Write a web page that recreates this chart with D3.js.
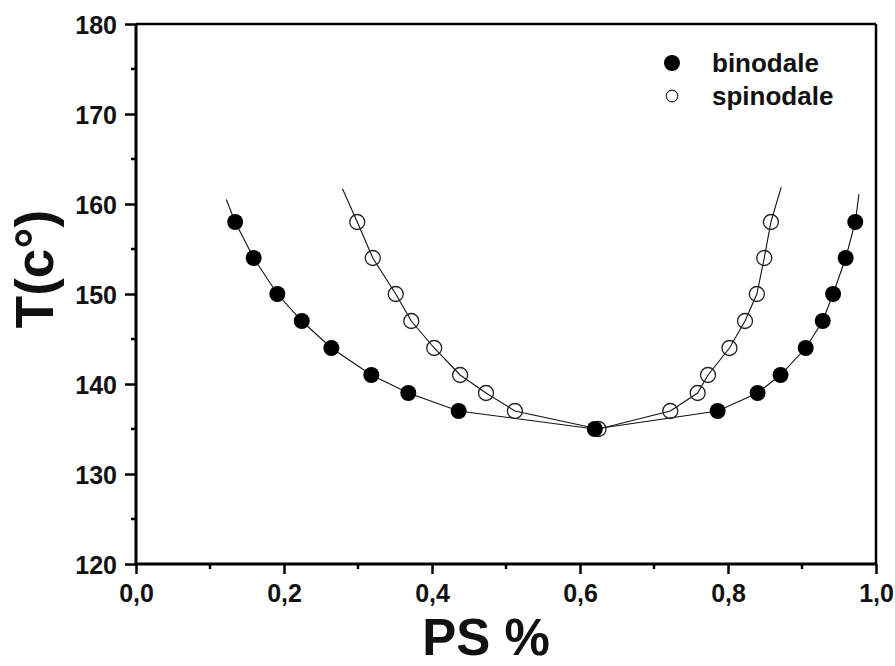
<!DOCTYPE html>
<html>
<head>
<meta charset="utf-8">
<script src="https://cdn.jsdelivr.net/npm/d3@7/dist/d3.min.js"></script>
<style>
  html, body { margin: 0; padding: 0; background: #fff; }
  svg { display: block; }
  text { font-family: Arial, "Liberation Sans", sans-serif; font-weight: bold; fill: #111; }
</style>
</head>
<body>
<svg id="chart" width="895" height="666"></svg>
<script>
// ---- data ----
const binodaleX = [0.134,0.159,0.191,0.224,0.264,0.318,0.368,0.436,0.620,0.786,0.840,0.871,0.905,0.928,0.942,0.959,0.972];
const binodaleT = [158,154,150,147,144,141,139,137,135,137,139,141,144,147,150,154,158];
const spinodaleX = [0.299,0.320,0.351,0.372,0.403,0.438,0.473,0.512,0.625,0.722,0.759,0.773,0.802,0.823,0.839,0.849,0.858];
const spinodaleT = [158,154,150,147,144,141,139,137,135,137,139,141,144,147,150,154,158];
// fitted guide lines (extend past the outermost points)
const binodaleLineX = [0.122,0.134,0.159,0.191,0.224,0.264,0.318,0.368,0.436,0.620,0.786,0.840,0.871,0.905,0.928,0.942,0.959,0.972,0.977];
const binodaleLineT = [160.5,158,154,150,147,144,141,139,137,135,137,139,141,144,147,150,154,158,161.1];
const spinodaleLineX = [0.279,0.299,0.320,0.351,0.372,0.403,0.438,0.473,0.512,0.625,0.722,0.759,0.773,0.802,0.823,0.839,0.849,0.858,0.872];
const spinodaleLineT = [161.7,158,154,150,147,144,141,139,137,135,137,139,141,144,147,150,154,158,161.9];

const xTicks = [0,0.2,0.4,0.6,0.8,1.0];
const xTickLabels = ["0,0","0,2","0,4","0,6","0,8","1,0"];
const xMinorTicks = [0.1,0.3,0.5,0.7,0.9];
const yTicks = [120,130,140,150,160,170,180];
const yTickLabels = ["120","130","140","150","160","170","180"];
const yMinorTicks = [125,135,145,155,165,175];
const seriesNames = ["binodale","spinodale"];
const xTitle = "PS %";
const yTitle = "T(c°)";

// ---- layout ----
const L = 136, R = 876, T = 24, B = 564;
const svg = d3.select("#chart");
const x = d3.scaleLinear().domain([0,1]).range([L,R]);
const y = d3.scaleLinear().domain([120,180]).range([B,T]);

// guide lines
const line = d3.line().x(d => x(d[0])).y(d => y(d[1]));
const binLine = binodaleLineX.map((v,i) => [v, binodaleLineT[i]]);
const spiLine = spinodaleLineX.map((v,i) => [v, spinodaleLineT[i]]);
[binLine, spiLine].forEach(pts => {
  svg.append("path").attr("d", line(pts)).attr("fill","none").attr("stroke","#111").attr("stroke-width",1.1);
});

// markers
const bin = binodaleX.map((v,i) => [v, binodaleT[i]]);
const spi = spinodaleX.map((v,i) => [v, spinodaleT[i]]);
svg.append("g").selectAll("circle").data(spi).join("circle")
  .attr("cx", d => x(d[0])).attr("cy", d => y(d[1])).attr("r", 7.5)
  .attr("fill","none").attr("stroke","#222").attr("stroke-width",1.3);
svg.append("g").selectAll("circle").data(bin).join("circle")
  .attr("cx", d => x(d[0])).attr("cy", d => y(d[1])).attr("r", 8)
  .attr("fill","#000");

// frame
svg.append("line").attr("x1",L).attr("x2",R).attr("y1",T).attr("y2",T).attr("stroke","#000").attr("stroke-width",2.5);
svg.append("line").attr("x1",R).attr("x2",R).attr("y1",T).attr("y2",B).attr("stroke","#000").attr("stroke-width",2.5);

// axes
const xAxis = d3.axisBottom(x).tickValues(xTicks).tickSize(10).tickPadding(10)
  .tickFormat((d,i) => xTickLabels[i]);
const gx = svg.append("g").attr("transform",`translate(0,${B})`).call(xAxis);
const yAxis = d3.axisLeft(y).tickValues(yTicks).tickSize(11).tickPadding(8)
  .tickFormat((d,i) => yTickLabels[i]);
const gy = svg.append("g").attr("transform",`translate(${L},0)`).call(yAxis);
[gx, gy].forEach(g => {
  g.select(".domain").attr("stroke","#000").attr("stroke-width",3);
  g.selectAll(".tick line").attr("stroke","#000").attr("stroke-width",2.5);
  g.selectAll(".tick text").attr("font-size",25).attr("font-weight","bold")
    .attr("font-family","Arial, 'Liberation Sans', sans-serif").attr("fill","#111");
});
gx.select(".domain").attr("d", `M${L},0H${R}`);
gy.select(".domain").attr("d", `M0,${B}V${T}`);
gx.selectAll(".tick text").attr("dy","0.71em");
gy.selectAll(".tick text").attr("dy","0.36em");
// minor ticks
svg.append("g").selectAll("line").data(xMinorTicks).join("line")
  .attr("x1", d => x(d)).attr("x2", d => x(d)).attr("y1", B).attr("y2", B+5)
  .attr("stroke","#000").attr("stroke-width",2.5);
svg.append("g").selectAll("line").data(yMinorTicks).join("line")
  .attr("y1", d => y(d)).attr("y2", d => y(d)).attr("x1", L).attr("x2", L-5)
  .attr("stroke","#000").attr("stroke-width",2.5);

// axis titles
svg.append("text").attr("x", 486).attr("y", 655).attr("text-anchor","middle")
  .attr("font-size", 51).text(xTitle);
svg.append("text").attr("transform","translate(53,269) rotate(-90)").attr("text-anchor","middle")
  .attr("font-size", 53).text(yTitle);

// legend
const lg = svg.append("g");
lg.append("circle").attr("cx",672).attr("cy",63).attr("r",8).attr("fill","#000");
lg.append("circle").attr("cx",672).attr("cy",96).attr("r",5.8).attr("fill","none").attr("stroke","#333").attr("stroke-width",1.2);
lg.append("text").attr("x",712).attr("y",72).attr("font-size",26).text(seriesNames[0]);
lg.append("text").attr("x",712).attr("y",105).attr("font-size",26).text(seriesNames[1]);
</script>
</body>
</html>
